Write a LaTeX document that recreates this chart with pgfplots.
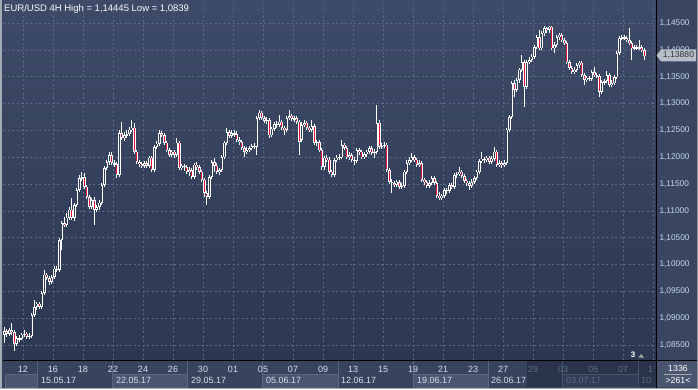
\documentclass[border=0pt]{standalone}
\usepackage{pgfplots}
\pgfplotsset{compat=1.18}
\usepackage{pgfplotstable}
\usepackage{fontspec}
\setmainfont{Liberation Sans}
\definecolor{bgtop}{HTML}{3E4B68}
\definecolor{bgbot}{HTML}{2C3751}
\definecolor{panel}{HTML}{3A4661}
\definecolor{barbg}{HTML}{38445D}
\definecolor{boxlt}{HTML}{4A5670}
\definecolor{dimbg}{HTML}{29334A}
\definecolor{dimbox}{HTML}{323C55}
\definecolor{gridc}{HTML}{5A6884}
\definecolor{lbl}{HTML}{D6DEEC}
\definecolor{ylbl}{HTML}{C4D6F0}
\definecolor{dimtxt}{HTML}{5E6A85}
\definecolor{candred}{HTML}{E3103A}
\definecolor{candin}{HTML}{36425D}
\definecolor{framec}{HTML}{A3ABB7}
\definecolor{sepc}{HTML}{5A6680}
\definecolor{tagc}{HTML}{B7BEC8}

\pgfplotstableread{
x o h l c
0 1.0869 1.0884 1.0854 1.0876
2 1.0871 1.0882 1.0867 1.0878
5 1.0852 1.0867 1.0848 1.0863
7 1.0861 1.0873 1.0860 1.0869
8 1.0869 1.0878 1.0865 1.0871
10 1.0865 1.0873 1.0861 1.0867
11 1.0867 1.0910 1.0863 1.0906
12 1.0906 1.0934 1.0902 1.0921
13 1.0921 1.0930 1.0915 1.0927
15 1.0921 1.0951 1.0917 1.0947
16 1.0947 1.0990 1.0943 1.0981
19 1.0968 1.0981 1.0964 1.0977
20 1.0977 1.0997 1.0973 1.0992
22 1.0990 1.1050 1.0986 1.1046
23 1.1046 1.1081 1.1027 1.1077
25 1.1074 1.1096 1.1070 1.1087
26 1.1087 1.1107 1.1083 1.1102
28 1.1087 1.1115 1.1081 1.1111
29 1.1111 1.1143 1.1107 1.1139
30 1.1139 1.1167 1.1135 1.1161
31 1.1161 1.1173 1.1156 1.1163
35 1.1107 1.1124 1.1104 1.1120
37 1.1102 1.1111 1.1098 1.1107
38 1.1107 1.1120 1.1102 1.1115
39 1.1115 1.1152 1.1111 1.1148
40 1.1148 1.1184 1.1145 1.1180
41 1.1180 1.1195 1.1176 1.1191
42 1.1191 1.1210 1.1186 1.1204
46 1.1167 1.1251 1.1163 1.1245
48 1.1236 1.1247 1.1230 1.1241
49 1.1241 1.1251 1.1236 1.1243
50 1.1243 1.1256 1.1240 1.1251
51 1.1251 1.1269 1.1247 1.1255
56 1.1184 1.1193 1.1180 1.1189
58 1.1184 1.1202 1.1180 1.1199
60 1.1176 1.1223 1.1173 1.1219
61 1.1219 1.1230 1.1215 1.1225
62 1.1225 1.1251 1.1221 1.1245
67 1.1204 1.1213 1.1200 1.1210
69 1.1204 1.1236 1.1200 1.1227
71 1.1180 1.1187 1.1176 1.1184
74 1.1173 1.1182 1.1165 1.1176
76 1.1163 1.1189 1.1160 1.1186
82 1.1126 1.1167 1.1122 1.1163
83 1.1163 1.1195 1.1160 1.1191
86 1.1173 1.1180 1.1167 1.1176
87 1.1176 1.1204 1.1173 1.1200
88 1.1200 1.1230 1.1197 1.1227
89 1.1227 1.1255 1.1223 1.1247
91 1.1240 1.1251 1.1236 1.1245
97 1.1210 1.1219 1.1206 1.1213
98 1.1213 1.1221 1.1210 1.1217
99 1.1217 1.1225 1.1213 1.1221
101 1.1219 1.1277 1.1204 1.1273
102 1.1273 1.1288 1.1269 1.1283
105 1.1268 1.1275 1.1262 1.1269
107 1.1241 1.1256 1.1238 1.1253
108 1.1253 1.1266 1.1249 1.1262
110 1.1260 1.1279 1.1256 1.1266
113 1.1251 1.1277 1.1247 1.1273
114 1.1273 1.1288 1.1269 1.1277
116 1.1271 1.1277 1.1266 1.1273
119 1.1232 1.1266 1.1228 1.1260
120 1.1260 1.1269 1.1256 1.1264
123 1.1251 1.1269 1.1247 1.1258
125 1.1227 1.1232 1.1221 1.1228
128 1.1182 1.1202 1.1176 1.1199
132 1.1167 1.1199 1.1163 1.1195
133 1.1195 1.1204 1.1191 1.1199
134 1.1199 1.1206 1.1195 1.1200
135 1.1200 1.1232 1.1197 1.1223
138 1.1200 1.1210 1.1195 1.1204
141 1.1193 1.1217 1.1189 1.1213
144 1.1200 1.1210 1.1197 1.1206
145 1.1206 1.1213 1.1200 1.1210
146 1.1210 1.1221 1.1206 1.1217
148 1.1208 1.1215 1.1199 1.1210
149 1.1210 1.1297 1.1206 1.1264
151 1.1219 1.1227 1.1215 1.1221
152 1.1221 1.1228 1.1217 1.1223
157 1.1148 1.1158 1.1145 1.1154
159 1.1145 1.1152 1.1141 1.1147
160 1.1147 1.1176 1.1143 1.1173
161 1.1173 1.1195 1.1169 1.1189
162 1.1189 1.1200 1.1186 1.1195
163 1.1195 1.1208 1.1191 1.1200
166 1.1186 1.1195 1.1182 1.1189
170 1.1147 1.1158 1.1143 1.1152
171 1.1152 1.1165 1.1148 1.1161
175 1.1124 1.1132 1.1120 1.1128
176 1.1128 1.1143 1.1124 1.1139
178 1.1137 1.1152 1.1133 1.1148
180 1.1145 1.1171 1.1141 1.1167
181 1.1167 1.1173 1.1161 1.1169
182 1.1169 1.1182 1.1165 1.1173
187 1.1147 1.1160 1.1143 1.1154
188 1.1154 1.1165 1.1150 1.1161
189 1.1161 1.1176 1.1158 1.1173
190 1.1173 1.1197 1.1169 1.1193
191 1.1193 1.1210 1.1189 1.1197
193 1.1195 1.1202 1.1191 1.1199
195 1.1191 1.1202 1.1187 1.1197
196 1.1197 1.1219 1.1193 1.1210
198 1.1186 1.1195 1.1182 1.1189
200 1.1186 1.1195 1.1182 1.1189
201 1.1189 1.1255 1.1186 1.1251
202 1.1251 1.1279 1.1247 1.1275
203 1.1275 1.1342 1.1271 1.1338
205 1.1325 1.1348 1.1322 1.1344
206 1.1344 1.1366 1.1338 1.1363
207 1.1363 1.1390 1.1359 1.1377
209 1.1331 1.1381 1.1327 1.1377
210 1.1377 1.1387 1.1374 1.1381
211 1.1381 1.1392 1.1377 1.1387
212 1.1387 1.1409 1.1383 1.1405
213 1.1405 1.1428 1.1402 1.1424
215 1.1403 1.1435 1.1400 1.1431
216 1.1431 1.14445 1.1426 1.1441
218 1.1437 1.1444 1.1431 1.1443
220 1.1403 1.1415 1.1394 1.1409
221 1.1409 1.1428 1.1405 1.1424
222 1.1424 1.1431 1.1418 1.1428
228 1.1359 1.1368 1.1355 1.1363
229 1.1363 1.1376 1.1359 1.1372
230 1.1372 1.1379 1.1366 1.1376
233 1.1344 1.1351 1.1340 1.1348
235 1.1346 1.1363 1.1342 1.1359
239 1.1322 1.1344 1.1318 1.1340
240 1.1340 1.1346 1.1335 1.1342
241 1.1342 1.1361 1.1338 1.1353
243 1.1335 1.1344 1.1331 1.1338
244 1.1338 1.1353 1.1335 1.1349
245 1.1349 1.1398 1.1346 1.1394
246 1.1394 1.1426 1.1390 1.1422
247 1.1422 1.1428 1.1418 1.1424
252 1.1403 1.1409 1.1400 1.1405
254 1.1403 1.1418 1.1400 1.1405
}\up

\pgfplotstableread{
x o h l c
1 1.0876 1.0880 1.0865 1.0871
3 1.0878 1.0891 1.0869 1.0874
4 1.0874 1.0878 1.0839 1.0852
6 1.0863 1.0869 1.0856 1.0861
9 1.0871 1.0874 1.0861 1.0865
14 1.0927 1.0930 1.0917 1.0921
17 1.0981 1.0984 1.0971 1.0975
18 1.0975 1.0979 1.0962 1.0968
21 1.0992 1.0997 1.0986 1.0990
24 1.1077 1.1089 1.1070 1.1074
27 1.1102 1.1124 1.1083 1.1087
32 1.1163 1.1171 1.1141 1.1145
33 1.1145 1.1148 1.1122 1.1126
34 1.1126 1.1130 1.1104 1.1107
36 1.1120 1.1126 1.1074 1.1102
43 1.1204 1.1210 1.1186 1.1189
44 1.1189 1.1195 1.1182 1.1187
45 1.1187 1.1191 1.1161 1.1167
47 1.1245 1.1266 1.1232 1.1236
52 1.1255 1.1264 1.1206 1.1210
53 1.1210 1.1213 1.1187 1.1191
54 1.1191 1.1195 1.1182 1.1187
55 1.1187 1.1191 1.1180 1.1184
57 1.1189 1.1193 1.1180 1.1184
59 1.1199 1.1202 1.1173 1.1176
63 1.1245 1.1249 1.1238 1.1241
64 1.1241 1.1245 1.1223 1.1227
65 1.1227 1.1230 1.1210 1.1213
66 1.1213 1.1217 1.1200 1.1204
68 1.1210 1.1213 1.1199 1.1204
70 1.1227 1.1230 1.1176 1.1180
72 1.1184 1.1187 1.1174 1.1182
73 1.1182 1.1186 1.1169 1.1173
75 1.1176 1.1180 1.1160 1.1163
77 1.1186 1.1191 1.1176 1.1182
78 1.1182 1.1186 1.1169 1.1173
79 1.1173 1.1176 1.1154 1.1158
80 1.1158 1.1161 1.1126 1.1133
81 1.1133 1.1137 1.1111 1.1126
84 1.1191 1.1199 1.1173 1.1184
85 1.1184 1.1189 1.1169 1.1173
90 1.1247 1.1251 1.1236 1.1240
92 1.1245 1.1251 1.1238 1.1243
93 1.1243 1.1249 1.1228 1.1232
94 1.1232 1.1238 1.1223 1.1228
95 1.1228 1.1232 1.1213 1.1217
96 1.1217 1.1221 1.1200 1.1210
100 1.1221 1.1227 1.1215 1.1219
103 1.1283 1.1286 1.1269 1.1273
104 1.1273 1.1277 1.1264 1.1268
106 1.1269 1.1273 1.1236 1.1241
109 1.1262 1.1268 1.1255 1.1260
111 1.1266 1.1269 1.1251 1.1255
112 1.1255 1.1258 1.1241 1.1251
115 1.1277 1.1281 1.1268 1.1271
117 1.1273 1.1277 1.1262 1.1266
118 1.1266 1.1269 1.1204 1.1228
121 1.1264 1.1268 1.1251 1.1255
122 1.1255 1.1258 1.1247 1.1251
124 1.1258 1.1262 1.1223 1.1227
126 1.1228 1.1232 1.1210 1.1213
127 1.1213 1.1217 1.1176 1.1182
129 1.1199 1.1204 1.1191 1.1195
130 1.1195 1.1200 1.1169 1.1173
131 1.1173 1.1176 1.1163 1.1167
136 1.1223 1.1227 1.1213 1.1217
137 1.1217 1.1221 1.1197 1.1200
139 1.1204 1.1208 1.1191 1.1195
140 1.1195 1.1200 1.1186 1.1193
142 1.1213 1.1217 1.1204 1.1210
143 1.1210 1.1213 1.1197 1.1200
147 1.1217 1.1221 1.1204 1.1208
150 1.1264 1.1269 1.1215 1.1219
153 1.1223 1.1227 1.1173 1.1176
154 1.1176 1.1180 1.1150 1.1154
155 1.1154 1.1160 1.1133 1.1152
156 1.1152 1.1156 1.1145 1.1148
158 1.1154 1.1158 1.1141 1.1145
164 1.1200 1.1204 1.1191 1.1195
165 1.1195 1.1199 1.1182 1.1186
167 1.1189 1.1193 1.1154 1.1158
168 1.1158 1.1161 1.1148 1.1154
169 1.1154 1.1158 1.1143 1.1147
172 1.1161 1.1165 1.1148 1.1152
173 1.1152 1.1156 1.1124 1.1128
174 1.1128 1.1135 1.1120 1.1124
177 1.1139 1.1143 1.1132 1.1137
179 1.1148 1.1152 1.1141 1.1145
183 1.1173 1.1176 1.1161 1.1165
184 1.1165 1.1169 1.1152 1.1156
185 1.1156 1.1160 1.1147 1.1152
186 1.1152 1.1156 1.1139 1.1147
192 1.1197 1.1200 1.1189 1.1195
194 1.1199 1.1202 1.1187 1.1191
197 1.1210 1.1213 1.1182 1.1186
199 1.1189 1.1193 1.1180 1.1186
204 1.1338 1.1344 1.1312 1.1325
208 1.1377 1.1381 1.1294 1.1331
214 1.1424 1.1437 1.1400 1.1403
217 1.1441 1.1443 1.1431 1.1437
219 1.1443 1.1444 1.1400 1.1403
223 1.1428 1.1431 1.1415 1.1418
224 1.1418 1.1422 1.1409 1.1413
225 1.1413 1.1417 1.1374 1.1377
226 1.1377 1.1381 1.1363 1.1366
227 1.1366 1.1370 1.1355 1.1359
231 1.1376 1.1379 1.1349 1.1353
232 1.1353 1.1357 1.1335 1.1344
234 1.1348 1.1351 1.1342 1.1346
236 1.1359 1.1368 1.1349 1.1353
237 1.1353 1.1357 1.1348 1.1351
238 1.1351 1.1355 1.1312 1.1322
242 1.1353 1.1357 1.1331 1.1335
248 1.1424 1.1428 1.1418 1.1422
249 1.1422 1.1426 1.1415 1.1418
250 1.1418 1.1441 1.1409 1.1413
251 1.1413 1.1417 1.1381 1.1403
253 1.1405 1.1409 1.1400 1.1403
255 1.1405 1.1409 1.1396 1.1400
256 1.1400 1.1403 1.1381 1.1388
}\dn

\begin{document}
\begin{tikzpicture}[x=1pt,y=1pt]
\useasboundingbox (0,0) rectangle (698,389);
\fill[barbg] (0,0) rectangle (698,389);
\shade[top color=bgtop, bottom color=bgbot] (3,29) rectangle (656,389);
\fill[panel] (656,29) rectangle (698,389);
% bottom bar
\fill[barbg] (3,2) rectangle (656,29);
\fill[dimbg] (527,2) rectangle (656,29);
\foreach \a/\b in {5/37,112/187,262/338,413/488}{
  \filldraw[fill=boxlt, draw=sepc, line width=0.6pt] (\a,2) rectangle (\b,15);
}
\filldraw[fill=dimbox, draw=sepc!60!dimbg, line width=0.6pt] (562,2) rectangle (638,15);
\foreach \a in {37,112,187,262,338,413,488}{
  \draw[sepc, line width=0.7pt] (\a,2) -- (\a,29);
}
\foreach \a in {562,638}{
  \draw[sepc!60!dimbg, line width=0.7pt] (\a,2) -- (\a,29);
}

\begin{axis}[
  scale only axis, width=653pt, height=357pt,
  at={(3pt,29pt)}, anchor=south west,
  xmin=-0.5, xmax=260.7, ymin=1.0822, ymax=1.14873,
  axis line style={draw=none},
  major tick length=0pt,
  xtick={7.5,19.5,31.5,43.5,55.5,67.5,79.5,91.5,103.5,115.5,127.5,139.5,151.5,163.5,175.5,187.5,199.5,211.5,223.5,235.5,247.5,259.5},
  xticklabels={12,16,18,22,24,26,30,01,05,07,09,13,15,19,21,23,27,{\color{dimtxt}29},{\color{dimtxt}03},{\color{dimtxt}05},{\color{dimtxt}07},{\color{dimtxt}1\phantom{0}}},
  xticklabel style={font=\fontsize{9}{10}\selectfont, text=lbl, anchor=base, yshift=-12.5pt},
  ytick={1.085,1.090,1.095,1.100,1.105,1.110,1.115,1.120,1.125,1.130,1.135,1.140,1.145},
  yticklabels={{1,08500},{1,09000},{1,09500},{1,10000},{1,10500},{1,11000},{1,11500},{1,12000},{1,12500},{1,13000},{1,13500},{1,14000},{1,14500}},
  yticklabel pos=right,
  yticklabel style={font=\fontsize{8.3}{10}\selectfont, text=ylbl, anchor=west},
  grid=major,
  major grid style={gridc, dash pattern=on 2pt off 2.5pt, line width=0.5pt},
]
% wicks
\addplot[forget plot, draw=none, mark=none, error bars/.cd, y dir=plus, y explicit, error mark=none,
  error bar style={draw=white, line width=0.9pt}]
  table[x=x, y=l, y error expr=\thisrow{h}-\thisrow{l}] {\up};
\addplot[forget plot, draw=none, mark=none, error bars/.cd, y dir=plus, y explicit, error mark=none,
  error bar style={draw=white, line width=0.9pt}]
  table[x=x, y=l, y error expr=\thisrow{h}-\thisrow{l}] {\dn};
% bodies
\addplot[forget plot, draw=none, mark=none, error bars/.cd, y dir=both, y explicit, error mark=none,
  error bar style={draw=white, line width=2.5pt}]
  table[x=x, y expr=(\thisrow{o}+\thisrow{c})/2, y error expr={max(abs(\thisrow{c}-\thisrow{o})/2,0.00008)}] {\up};
\addplot[forget plot, draw=none, mark=none, error bars/.cd, y dir=both, y explicit, error mark=none,
  error bar style={draw=white, line width=2.5pt}]
  table[x=x, y expr=(\thisrow{o}+\thisrow{c})/2, y error expr={max(abs(\thisrow{c}-\thisrow{o})/2,0.00008)}] {\dn};
% interiors
\addplot[forget plot, draw=none, mark=none, error bars/.cd, y dir=both, y explicit, error mark=none,
  error bar style={draw=candin, line width=0.7pt}]
  table[x=x, y expr=(\thisrow{o}+\thisrow{c})/2, y error expr={max(abs(\thisrow{c}-\thisrow{o})/2-0.00012,0)}] {\up};
\addplot[forget plot, draw=none, mark=none, error bars/.cd, y dir=both, y explicit, error mark=none,
  error bar style={draw=candred, line width=1.1pt}]
  table[x=x, y expr=(\thisrow{o}+\thisrow{c})/2, y error expr={max(abs(\thisrow{c}-\thisrow{o})/2-0.00012,0)}] {\dn};
\end{axis}

% separators / borders
\draw[black, line width=1pt] (656,0) -- (656,389);
\draw[black, line width=1pt] (3,29) -- (698,29);
% week labels
\foreach \xx/\tt in {41/15.05.17,116/22.05.17,191/29.05.17,266/05.06.17,341/12.06.17,417/19.06.17,491/26.06.17}{
  \node[anchor=base west, inner sep=0, text=lbl, font=\fontsize{9}{10}\selectfont] at (\xx,5.8) {\tt};
}
\node[anchor=base west, inner sep=0, text=dimtxt, font=\fontsize{9}{10}\selectfont] at (566,5.8) {03.07.17};
\node[anchor=base west, inner sep=0, text=dimtxt, font=\fontsize{9}{10}\selectfont] at (641,5.8) {10.};
% bottom-right counter box
\fill[boxlt] (657,2) rectangle (697,28.5);
\node[text=white, font=\fontsize{8.8}{10}\selectfont, inner sep=0] at (678,20.5) {1336};
\draw[gray!70, line width=0.6pt] (664,15) -- (692,15);
\node[text=white, font=\fontsize{8.8}{10}\selectfont, inner sep=0] at (678,8.5) {>261<};
% title
\node[anchor=base west, inner sep=0, text=white!88!ylbl, font=\fontsize{9.5}{11}\selectfont] at (4,377.5) {EUR/USD 4H High = 1,14445 Low = 1,0839};
% price tag
\fill[tagc] (656.5,333.5) -- (661,339.5) -- (696,339.5) -- (696,327.5) -- (661,327.5) -- cycle;
\node[text=black!80, font=\fontsize{8.6}{10}\selectfont, inner sep=0] at (678.5,333.5) {1,13880};
% marker
\node[text=white, font=\bfseries\fontsize{8}{9}\selectfont, inner sep=0] at (633,34.5) {3};
\fill[gray!70] (638.5,31.5) -- (644,31.5) -- (641.25,35) -- cycle;
% frame
\fill[framec] (0,0) rectangle (2,389);
\fill[framec] (0,0) rectangle (698,1.5);
\fill[framec!80!barbg] (697,0) rectangle (698,389);
\end{tikzpicture}
\end{document}
